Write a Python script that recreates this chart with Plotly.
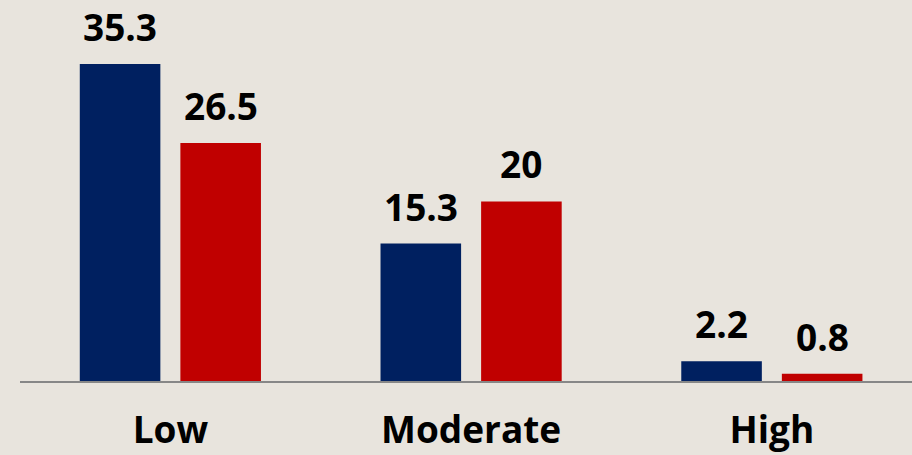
import plotly.graph_objects as go

# Category labels and the two series of values
categories = ["Low", "Moderate", "High"]
series_a = [35.3, 15.3, 2.2]
series_b = [26.5, 20, 0.8]

navy = "#002060"
red = "#C00000"
bg = "#E8E4DD"
font_family = "Open Sans, Lato, sans-serif"

fig = go.Figure()
fig.add_trace(go.Bar(x=categories, y=series_a, marker=dict(color=navy, line=dict(width=0)),
                     hoverinfo="skip", showlegend=False))
fig.add_trace(go.Bar(x=categories, y=series_b, marker=dict(color=red, line=dict(width=0)),
                     hoverinfo="skip", showlegend=False))

# Value labels above each bar, positioned from the bar's own value
offsets = [-0.5, 0.5]
slot = (1 - 0.331) / 2
for k, vals in enumerate([series_a, series_b]):
    for i, v in enumerate(vals):
        fig.add_annotation(
            x=i + offsets[k] * slot, y=v, xref="x", yref="y",
            text=f"<b>{v:g}</b>", showarrow=False,
            yanchor="bottom", yshift=10,
            font=dict(family=font_family, size=37, color="#000000"),
        )

fig.update_layout(
    width=912, height=455,
    margin=dict(l=20, r=0, t=0, b=74, autoexpand=False),
    paper_bgcolor=bg, plot_bgcolor=bg,
    barmode="group", bargap=0.331, bargroupgap=0.199,
    xaxis=dict(
        type="category", range=[-0.5, 2.466], automargin=False,
        showline=True, linecolor="#878787", linewidth=2,
        showgrid=False, zeroline=False, ticks="",
        tickfont=dict(family=font_family, size=37, color="#000000"),
        ticklabelstandoff=16,
        tickvals=categories, ticktext=[f"<b>{c}</b>" for c in categories],
    ),
    yaxis=dict(range=[0, 42.43], visible=False, showgrid=False, zeroline=False,
               automargin=False),
)

fig.write_html("out.html")
